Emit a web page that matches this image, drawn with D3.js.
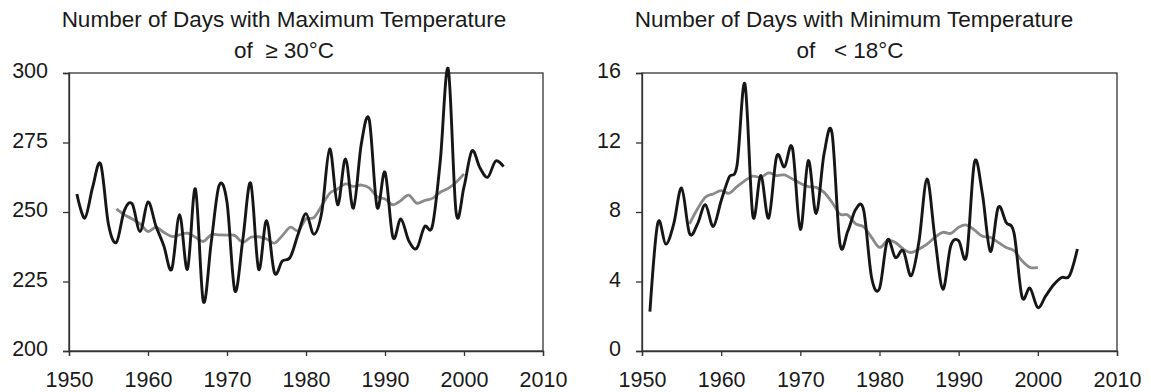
<!DOCTYPE html>
<html>
<head>
<meta charset="utf-8">
<script src="https://cdn.jsdelivr.net/npm/d3@7"></script>
<style>
  html, body { margin: 0; padding: 0; background: #fff; }
  svg text { font-family: "Liberation Sans", Arial, sans-serif; fill: #1a1a1a; }
</style>
</head>
<body>
<div id="chart"></div>
<script>
const years = [1951, 1952, 1953, 1954, 1955, 1956, 1957, 1958, 1959, 1960,
  1961, 1962, 1963, 1964, 1965, 1966, 1967, 1968, 1969, 1970,
  1971, 1972, 1973, 1974, 1975, 1976, 1977, 1978, 1979, 1980,
  1981, 1982, 1983, 1984, 1985, 1986, 1987, 1988, 1989, 1990,
  1991, 1992, 1993, 1994, 1995, 1996, 1997, 1998, 1999, 2000,
  2001, 2002, 2003, 2004, 2005];
const avgYears = [1956, 1957, 1958, 1959, 1960, 1961, 1962, 1963, 1964, 1965,
  1966, 1967, 1968, 1969, 1970, 1971, 1972, 1973, 1974, 1975,
  1976, 1977, 1978, 1979, 1980, 1981, 1982, 1983, 1984, 1985,
  1986, 1987, 1988, 1989, 1990, 1991, 1992, 1993, 1994, 1995,
  1996, 1997, 1998, 1999, 2000];

// days with max temperature >= 30°C
const maxDays = [256.5, 247.8, 259, 267.3, 245.5, 239.1, 250.5, 252.9, 243, 253.6,
  245, 237.9, 229.4, 249, 229.4, 258.3, 217.8, 239, 259.5, 253.5,
  221.6, 240, 260.4, 229.4, 246.9, 228.2, 232.4, 233.7, 242, 249.4,
  242, 250, 272.7, 252.6, 269.1, 251.4, 274.5, 283.2, 251.7, 264.3,
  240.9, 247.5, 239.7, 236.9, 244.7, 245, 268.5, 301.5, 249.9, 259,
  272, 266, 262.5, 268.3, 266.3];
const maxAvg = [251.1, 249, 247.5, 245.7, 243, 244.5, 242.7, 241.2, 241.8, 242.4,
  240.9, 239.4, 241.8, 241.8, 241.7, 241.5, 239.1, 240.9, 241.1, 240.3,
  238.8, 241.5, 244.5, 243.3, 247.5, 248, 252.3, 256.7, 258.3, 260.1,
  259.2, 259.7, 258.7, 255.5, 254.7, 252.6, 254.1, 256.1, 253.2, 254.1,
  254.9, 257.1, 258.5, 260.7, 263.7];

// days with min temperature < 18°C
const minDays = [2.27, 7.37, 6.15, 7.3, 9.38, 6.77, 7.3, 8.42, 7.17, 8.65,
  10, 10.67, 15.38, 7.79, 10.1, 7.65, 11.19, 10.6, 11.69, 7.0,
  10.96, 7.92, 11.35, 12.54, 6.19, 6.9, 8.15, 8.1, 4.23, 3.6,
  6.38, 5.38, 5.77, 4.33, 6.35, 9.9, 6.5, 3.56, 6.06, 6.35,
  5.48, 10.87, 9.04, 5.73, 8.27, 7.4, 6.77, 3.12, 3.62, 2.5,
  3.17, 3.81, 4.23, 4.33, 5.87];
const minAvg = [7.31, 8.17, 8.85, 9.04, 9.23, 9.08, 9.46, 9.81, 10.06, 10.0,
  10.25, 10.1, 10.13, 9.9, 9.65, 9.46, 9.42, 9.13, 8.56, 7.88,
  7.83, 7.31, 7.15, 6.54, 5.96, 6.35, 6.25, 5.87, 5.67, 5.87,
  6.15, 6.54, 6.83, 6.77, 7.12, 7.25, 6.96, 6.6, 6.54, 6.25,
  5.96, 5.77, 5.19, 4.81, 4.81];

const xTicks = [1950, 1960, 1970, 1980, 1990, 2000, 2010];
const maxTicks = [200, 225, 250, 275, 300];
const minTicks = [0, 4, 8, 12, 16];
const maxTitle = ['Number of Days with Maximum Temperature', 'of  \u2265 30\u00b0C'];
const minTitle = ['Number of Days with Minimum Temperature', 'of   < 18\u00b0C'];

const svg = d3.select('#chart').append('svg')
  .attr('width', 1151).attr('height', 392);
svg.append('rect').attr('width', 1151).attr('height', 392).attr('fill', '#fff');

function panel(cfg) {
  const x = d3.scaleLinear().domain([1950, 2010]).range([cfg.left, cfg.right]);
  const y = d3.scaleLinear().domain(cfg.yDomain).range([351, 73]);

  // frame
  svg.append('rect')
    .attr('x', cfg.left).attr('y', 73)
    .attr('width', cfg.right - cfg.left).attr('height', 351 - 73)
    .attr('fill', 'none').attr('stroke', '#333').attr('stroke-width', 1.3);

  const xAxis = svg.append('g')
    .attr('transform', 'translate(0,351)')
    .call(d3.axisBottom(x).tickValues(xTicks).tickFormat(d3.format('d')).tickSize(5).tickPadding(16));
  const yAxis = svg.append('g')
    .attr('transform', 'translate(' + cfg.left + ',0)')
    .call(d3.axisLeft(y).tickValues(cfg.yTicks).tickSize(6).tickPadding(15));

  [xAxis, yAxis].forEach(g => {
    g.select('.domain').attr('stroke', '#333').attr('stroke-width', 1.3);
    g.selectAll('.tick line').attr('stroke', '#333').attr('stroke-width', 1.3);
    g.selectAll('.tick text').attr('font-size', 21.5).attr('fill', '#1a1a1a')
      .style('font-family', '"Liberation Sans", Arial, sans-serif');
  });
  yAxis.selectAll('.tick text').attr('dy', '0.22em');

  const line = d3.line()
    .x(d => x(d[0]))
    .y(d => y(d[1]))
    .curve(d3.curveCardinal.tension(0));

  svg.append('path')
    .datum(d3.zip(avgYears, cfg.avg))
    .attr('d', line)
    .attr('fill', 'none').attr('stroke', '#8a8a8a').attr('stroke-width', 2.8);

  svg.append('path')
    .datum(d3.zip(years, cfg.values))
    .attr('d', line)
    .attr('fill', 'none').attr('stroke', '#161616').attr('stroke-width', 2.9)
    .attr('stroke-linejoin', 'round');

  // title, sits a little left of the plot centre in the original
  cfg.title.forEach((t, i) => {
    svg.append('text')
      .attr('x', cfg.titleX[i]).attr('y', i === 0 ? 27 : 58)
      .attr('text-anchor', 'middle')
      .attr('font-size', 22.5)
      .style('white-space', 'pre')
      .text(t);
  });
}

panel({ left: 69, right: 543, yDomain: [200, 300], yTicks: maxTicks,
  values: maxDays, avg: maxAvg, title: maxTitle, titleX: [284, 284] });
panel({ left: 642, right: 1117, yDomain: [0, 16], yTicks: minTicks,
  values: minDays, avg: minAvg, title: minTitle, titleX: [854, 850] });
</script>
</body>
</html>
